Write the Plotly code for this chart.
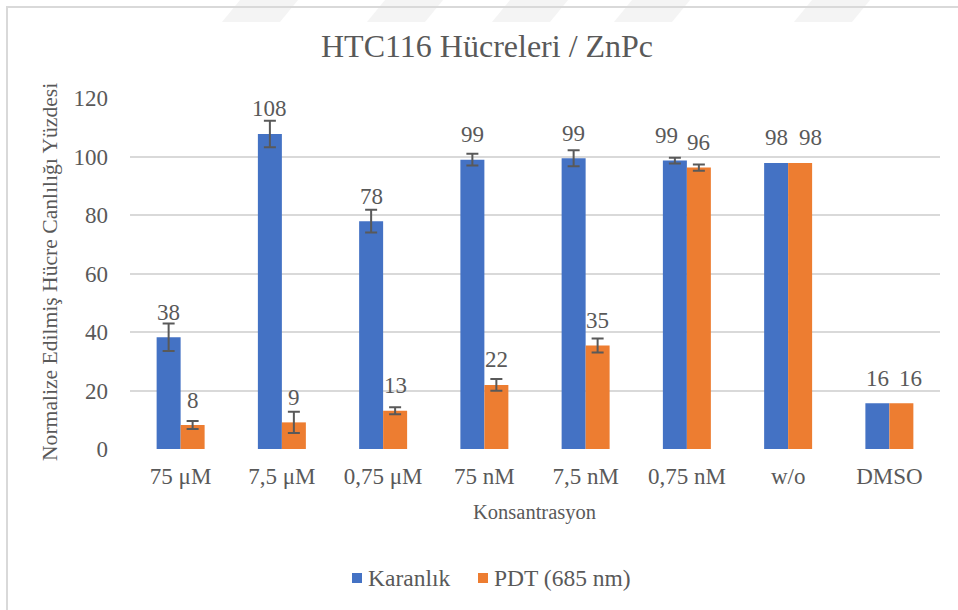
import plotly.graph_objects as go

# Concentration groups
categories = ["75 μM", "7,5 μM", "0,75 μM", "75 nM", "7,5 nM", "0,75 nM", "w/o", "DMSO"]

# Normalised cell viability (%) per condition
dark_values = [38.2, 107.7, 77.9, 98.9, 99.4, 98.6, 97.8, 15.6]
dark_errors = [4.7, 4.5, 3.9, 2.0, 2.7, 1.0, 0.0, 0.0]
pdt_values = [8.2, 9.1, 13.1, 21.9, 35.4, 96.2, 97.8, 15.6]
pdt_errors = [1.4, 3.6, 1.2, 2.0, 2.4, 1.1, 0.0, 0.0]

series_names = ["Karanlık", "PDT (685 nm)"]
y_ticks = [0, 20, 40, 60, 80, 100, 120]

BLUE = "#4472C4"
ORANGE = "#ED7D31"
TEXT = "#595959"
GRID = "#D9D9D9"
FONT = "Liberation Serif"

W, H = 958, 610
L, R, T, B = 130, 18, 98, 161
PW, PH = W - L - R, H - T - B


def px(x):
    return (x - L) / PW


def py(y):
    return (H - B - y) / PH


fig = go.Figure()
for name, vals, errs, color in [
    (series_names[0], dark_values, dark_errors, BLUE),
    (series_names[1], pdt_values, pdt_errors, ORANGE),
]:
    # bars that carry an error estimate and bars that do not share one slot
    with_err = [i for i, e in enumerate(errs) if e > 0]
    no_err = [i for i, e in enumerate(errs) if e <= 0]
    fig.add_trace(go.Bar(
        x=[categories[i] for i in with_err], y=[vals[i] for i in with_err],
        name=name, offsetgroup=name, marker_color=color,
        marker_line_width=0, showlegend=False,
        error_y=dict(type="data", array=[errs[i] for i in with_err],
                     visible=True, color=TEXT, thickness=2, width=6),
    ))
    fig.add_trace(go.Bar(
        x=[categories[i] for i in no_err], y=[vals[i] for i in no_err],
        name=name, offsetgroup=name, marker_color=color,
        marker_line_width=0, showlegend=False,
    ))

# Value labels above each bar (nudged apart where neighbours collide)
half = 0.1185
nudge_dark = {5: -8}
nudge_pdt = {6: 10, 7: 9}
annotations = []
for i, (dv, pv) in enumerate(zip(dark_values, pdt_values)):
    for val, off, nd in [(dv, -half, nudge_dark), (pv, half, nudge_pdt)]:
        annotations.append(dict(
            x=i + off, y=val, xref="x", yref="y", text=str(round(val)),
            showarrow=False, yshift=25, xshift=nd.get(i, 0),
            yanchor="middle", font=dict(family=FONT, size=23, color=TEXT),
        ))

# Title and axis titles
annotations.append(dict(x=px(487), y=py(46), xref="paper", yref="paper",
                        text="HTC116 Hücreleri / ZnPc", showarrow=False,
                        xanchor="center", yanchor="middle",
                        font=dict(family=FONT, size=32, color=TEXT)))
annotations.append(dict(x=px(50), y=py(272), xref="paper", yref="paper",
                        text="Normalize Edilmiş Hücre Canlılığı Yüzdesi",
                        textangle=-90, showarrow=False,
                        xanchor="center", yanchor="middle",
                        font=dict(family=FONT, size=21.6, color=TEXT)))
annotations.append(dict(x=px(534), y=py(512), xref="paper", yref="paper",
                        text="Konsantrasyon", showarrow=False,
                        xanchor="center", yanchor="middle",
                        font=dict(family=FONT, size=20.5, color=TEXT)))

# Legend drawn as swatches + labels
shapes = []
for (x0, label, color) in [(352, series_names[0], BLUE), (478, series_names[1], ORANGE)]:
    shapes.append(dict(type="rect", xref="paper", yref="paper",
                       x0=px(x0), x1=px(x0 + 10), y0=py(583), y1=py(573),
                       fillcolor=color, line_width=0))
    annotations.append(dict(x=px(x0 + 14), y=py(578), xref="paper", yref="paper",
                            text=label, showarrow=False,
                            xanchor="left", yanchor="middle",
                            font=dict(family=FONT, size=23.5, color=TEXT)))

# Chart frame
shapes.append(dict(type="path", xref="paper", yref="paper",
                   path=f"M {px(7)} {py(660)} L {px(7)} {py(7)} L {px(990)} {py(7)}",
                   line=dict(color=GRID, width=2)))

# Faint diagonal stripes along the top edge
for x0 in [240, 385, 510, 632, 812]:
    shapes.append(dict(type="path", xref="paper", yref="paper", layer="below",
                       path=(f"M {px(x0)} {py(0)} L {px(x0 + 58)} {py(0)} "
                             f"L {px(x0 + 40)} {py(22)} L {px(x0 - 18)} {py(22)} Z"),
                       fillcolor="#F4F4F4", line_width=0))

fig.update_layout(
    width=W, height=H,
    margin=dict(l=L, r=R, t=T, b=B),
    paper_bgcolor="white", plot_bgcolor="white",
    barmode="group", bargap=0.526, bargroupgap=0,
    font=dict(family=FONT, color=TEXT),
    annotations=annotations, shapes=shapes,
    showlegend=False,
)
fig.update_xaxes(
    categoryorder="array", categoryarray=categories,
    showgrid=False, showline=False, zeroline=False, ticks="",
    tickfont=dict(family=FONT, size=23, color=TEXT), ticklabelstandoff=11,
)
fig.update_yaxes(
    range=[0, 120], tickvals=y_ticks, showgrid=True, gridcolor=GRID, gridwidth=1.5,
    zeroline=False, showline=False, ticks="",
    tickfont=dict(family=FONT, size=23, color=TEXT), ticklabelstandoff=21,
)

fig.write_html("out.html")
